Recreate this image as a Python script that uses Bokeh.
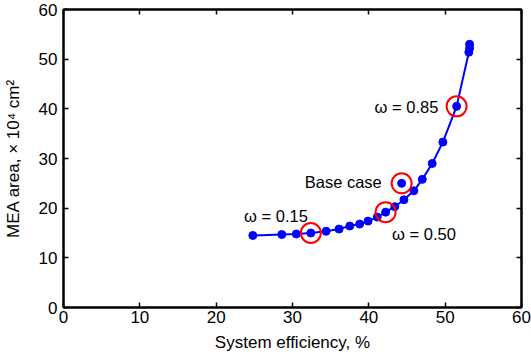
from bokeh.plotting import figure
from bokeh.models import LinearAxis, Range1d, FixedTicker, CustomJSTickFormatter
from bokeh.core.properties import value
from bokeh.embed import file_html
from bokeh.resources import INLINE

efficiency = [24.8, 28.6, 30.5, 32.4, 34.4, 36.1, 37.5, 38.8, 39.9, 41.1, 42.2, 43.4, 44.6, 45.9,
              47.0, 48.3, 49.7, 51.5, 53.1, 53.2, 53.2]
mea_area = [14.5, 14.7, 14.8, 15.0, 15.35, 15.8, 16.4, 16.8, 17.4, 18.2, 19.2, 20.3, 21.7, 23.5,
            25.8, 29.0, 33.3, 40.5, 51.4, 52.2, 53.0]
base_x = [44.3]
base_y = [25.0]
hl_x = [32.4, 42.2, 51.5, 44.3]
hl_y = [15.0, 19.2, 40.5, 25.0]
labels = ["ω = 0.15", "Base case", "ω = 0.50", "ω = 0.85"]
ticks = [0, 10, 20, 30, 40, 50, 60]

FONT = "Liberation Sans"

p = figure(width=531, height=356, output_backend="svg", toolbar_location=None,
           x_range=Range1d(0, 60), y_range=Range1d(0, 60),
           min_border_left=60, min_border_right=10, min_border_top=9, min_border_bottom=49)
p.grid.visible = False
p.outline_line_color = "black"
p.outline_line_width = 2

for ax in (p.xaxis[0], p.yaxis[0]):
    ax.ticker = FixedTicker(ticks=ticks)
    ax.major_tick_in = 5
    ax.major_tick_out = 0
    ax.minor_tick_line_color = None
    ax.axis_line_width = 2
    ax.major_tick_line_width = 1.5
    ax.major_label_text_font = FONT
    ax.major_label_text_font_size = "17px"
    ax.major_label_text_color = "black"
    ax.axis_label_text_font = FONT
    ax.axis_label_text_font_size = "17px"
    ax.axis_label_text_font_style = "normal"
    ax.axis_label_text_color = "black"

p.xaxis[0].axis_label = "System efficiency, %"
p.yaxis[0].axis_label = "MEA area, × 10⁴ cm²"
p.xaxis[0].major_label_standoff = 3
p.yaxis[0].major_label_standoff = 6
p.xaxis[0].axis_label_standoff = 7
p.yaxis[0].axis_label_standoff = 13

blank = CustomJSTickFormatter(code="return ''")
for loc in ("above", "right"):
    ax = LinearAxis(ticker=FixedTicker(ticks=ticks), major_tick_in=5, major_tick_out=0,
                    minor_tick_line_color=None, formatter=blank,
                    major_label_standoff=0, axis_line_width=2, major_tick_line_width=1.5)
    p.add_layout(ax, loc)

p.line(efficiency, mea_area, line_color="#0000FF", line_width=2)
p.scatter(efficiency, mea_area, size=8, fill_color="#0000FF", line_color="#0000FF")
p.scatter(base_x, base_y, size=8, fill_color="#0000FF", line_color="#0000FF")
p.scatter(hl_x, hl_y, size=20, fill_color=None, line_color="#FF0000", line_width=2)

lab_x = [23.65, 31.6, 43.05, 40.75]
lab_y = [18.5, 25.2, 14.8, 40.4]
p.text(lab_x, lab_y, text=labels, text_font=value(FONT), text_font_size="16.5px",
       text_baseline="middle", text_align="left", text_color="black")

open("out.html", "w").write(file_html(p, INLINE))
